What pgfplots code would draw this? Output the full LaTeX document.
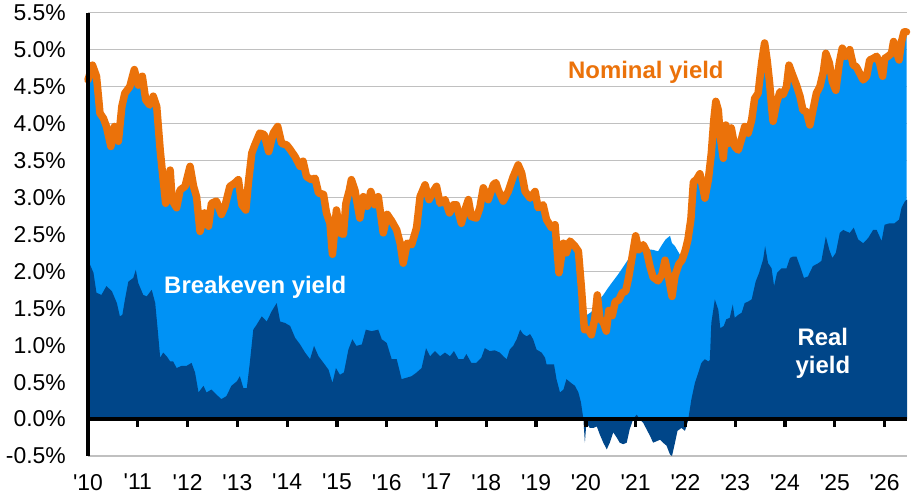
\documentclass[border=0pt]{standalone}
\usepackage{fontspec}
\setmainfont{Liberation Sans}
\usepackage{pgfplots}
\pgfplotsset{compat=1.18}
\usepackage{pgfplotstable}
\definecolor{lb}{RGB}{0,146,245}
\definecolor{navy}{RGB}{0,70,137}
\definecolor{orng}{RGB}{235,114,10}
\definecolor{gridgray}{RGB}{192,192,192}
\newcommand\q{\textquotesingle}

\pgfplotstableread{
t n
2010.00 4.59
2010.09 4.79
2010.17 4.64
2010.21 4.36
2010.24 4.14
2010.31 4.07
2010.37 3.96
2010.46 3.69
2010.53 3.96
2010.61 3.76
2010.68 4.23
2010.74 4.41
2010.84 4.50
2010.93 4.73
2011.01 4.52
2011.09 4.64
2011.16 4.32
2011.24 4.25
2011.31 4.37
2011.38 4.23
2011.45 3.64
2011.49 3.37
2011.56 2.92
2011.65 3.37
2011.69 2.96
2011.78 2.86
2011.85 3.10
2011.95 3.15
2012.05 3.42
2012.12 3.15
2012.18 3.01
2012.25 2.54
2012.34 2.79
2012.42 2.61
2012.48 2.92
2012.58 2.95
2012.68 2.77
2012.75 2.88
2012.85 3.15
2012.94 3.19
2013.02 3.24
2013.09 2.90
2013.17 2.83
2013.22 3.19
2013.29 3.60
2013.35 3.71
2013.45 3.87
2013.54 3.85
2013.63 3.62
2013.72 3.87
2013.81 3.96
2013.89 3.73
2013.99 3.71
2014.06 3.65
2014.16 3.55
2014.26 3.42
2014.32 3.49
2014.39 3.28
2014.49 3.24
2014.56 3.26
2014.63 3.06
2014.73 3.04
2014.79 2.79
2014.86 2.65
2014.91 2.23
2014.99 2.83
2015.06 2.52
2015.13 2.50
2015.18 2.92
2015.25 3.10
2015.29 3.24
2015.36 3.10
2015.46 2.72
2015.53 3.01
2015.61 2.88
2015.68 3.08
2015.76 2.90
2015.83 3.01
2015.93 2.52
2016.01 2.77
2016.10 2.68
2016.20 2.56
2016.27 2.38
2016.33 2.11
2016.41 2.38
2016.50 2.36
2016.60 2.59
2016.67 3.01
2016.77 3.17
2016.85 2.97
2016.93 3.08
2017.00 3.15
2017.07 2.92
2017.17 2.97
2017.26 2.79
2017.34 2.90
2017.40 2.90
2017.50 2.65
2017.57 2.83
2017.64 2.97
2017.70 2.74
2017.80 2.72
2017.87 2.86
2017.94 3.13
2018.04 2.97
2018.14 3.17
2018.19 3.20
2018.24 3.10
2018.34 2.95
2018.44 3.08
2018.54 3.28
2018.64 3.44
2018.71 3.33
2018.78 3.08
2018.88 2.99
2018.98 3.08
2019.04 2.86
2019.14 2.90
2019.21 2.70
2019.31 2.59
2019.38 2.63
2019.46 1.98
2019.55 2.38
2019.61 2.25
2019.68 2.41
2019.78 2.34
2019.85 2.27
2019.91 1.78
2019.97 1.21
2020.05 1.21
2020.11 1.14
2020.18 1.36
2020.23 1.68
2020.28 1.36
2020.35 1.31
2020.41 1.19
2020.46 1.47
2020.53 1.40
2020.59 1.59
2020.66 1.61
2020.73 1.71
2020.80 1.73
2020.86 1.92
2020.93 2.20
2021.00 2.48
2021.06 2.29
2021.15 2.36
2021.22 2.27
2021.29 2.06
2021.35 1.92
2021.45 1.87
2021.53 1.96
2021.59 2.15
2021.65 1.96
2021.73 1.66
2021.79 1.94
2021.87 2.10
2021.93 2.15
2022.00 2.29
2022.05 2.43
2022.11 2.71
2022.16 3.21
2022.22 3.24
2022.29 3.32
2022.36 3.10
2022.39 2.99
2022.46 3.24
2022.52 3.60
2022.57 4.05
2022.61 4.30
2022.66 4.18
2022.70 3.82
2022.76 3.53
2022.81 3.98
2022.86 3.73
2022.92 3.94
2022.99 3.69
2023.06 3.64
2023.13 3.80
2023.19 3.96
2023.26 3.87
2023.33 4.05
2023.39 4.34
2023.46 4.41
2023.53 4.82
2023.59 5.09
2023.64 4.86
2023.69 4.55
2023.73 4.23
2023.76 4.03
2023.83 4.28
2023.90 4.43
2023.96 4.39
2024.03 4.50
2024.08 4.79
2024.15 4.66
2024.23 4.52
2024.30 4.37
2024.36 4.18
2024.43 4.16
2024.50 3.98
2024.56 4.18
2024.63 4.41
2024.70 4.50
2024.77 4.70
2024.82 4.95
2024.89 4.82
2024.95 4.57
2025.02 4.45
2025.09 4.82
2025.15 5.02
2025.22 4.91
2025.30 5.00
2025.37 4.79
2025.43 4.77
2025.50 4.68
2025.57 4.59
2025.64 4.64
2025.70 4.86
2025.77 4.88
2025.84 4.91
2025.90 4.82
2025.96 4.64
2026.00 4.88
2026.07 4.91
2026.14 4.95
2026.18 5.11
2026.24 4.97
2026.29 4.86
2026.34 5.11
2026.39 5.24
2026.44 5.24
}\nom

\pgfplotstableread{
t l
2019.96 1.30
2020.00 1.40
2020.11 1.45
2020.25 1.60
2020.35 1.68
2020.45 1.78
2020.55 1.87
2020.65 1.96
2020.75 2.06
2020.85 2.16
2020.92 2.25
2020.98 2.40
2021.05 2.30
2021.20 2.30
2021.35 2.29
2021.45 2.27
2021.53 2.36
2021.60 2.43
2021.69 2.48
2021.73 2.38
2021.79 2.34
2021.85 2.27
2021.91 2.20
2021.96 2.18
2022.02 2.25
}\ltop

\pgfplotstableread{
t r
2010.00 2.05
2010.04 2.09
2010.11 1.98
2010.17 1.71
2010.27 1.68
2010.37 1.80
2010.48 1.73
2010.58 1.57
2010.64 1.39
2010.69 1.41
2010.74 1.61
2010.81 1.86
2010.91 1.91
2010.96 2.02
2011.01 1.84
2011.11 1.68
2011.18 1.66
2011.28 1.75
2011.35 1.57
2011.40 1.21
2011.45 0.83
2011.51 0.90
2011.58 0.85
2011.65 0.78
2011.71 0.78
2011.78 0.69
2011.88 0.72
2011.98 0.72
2012.08 0.76
2012.15 0.63
2012.22 0.36
2012.32 0.45
2012.38 0.36
2012.48 0.40
2012.58 0.33
2012.68 0.27
2012.78 0.31
2012.88 0.45
2012.99 0.51
2013.05 0.58
2013.12 0.42
2013.19 0.42
2013.25 0.76
2013.32 1.21
2013.39 1.28
2013.49 1.39
2013.59 1.32
2013.69 1.46
2013.79 1.57
2013.86 1.32
2013.96 1.30
2014.06 1.26
2014.16 1.10
2014.26 1.01
2014.36 0.90
2014.46 0.81
2014.54 0.99
2014.63 0.85
2014.73 0.76
2014.83 0.67
2014.91 0.49
2014.98 0.69
2015.06 0.60
2015.14 0.63
2015.23 0.94
2015.31 1.08
2015.39 0.99
2015.50 1.01
2015.58 1.21
2015.70 1.19
2015.83 1.21
2015.90 1.08
2016.00 1.03
2016.10 0.81
2016.20 0.81
2016.30 0.54
2016.40 0.56
2016.50 0.58
2016.60 0.63
2016.70 0.69
2016.79 0.96
2016.87 0.85
2016.97 0.92
2017.07 0.85
2017.17 0.90
2017.27 0.85
2017.35 0.92
2017.44 0.81
2017.54 0.81
2017.60 0.88
2017.70 0.76
2017.80 0.76
2017.90 0.83
2017.97 0.96
2018.07 0.92
2018.17 0.93
2018.27 0.90
2018.34 0.85
2018.41 0.81
2018.47 0.94
2018.54 0.99
2018.61 1.08
2018.68 1.21
2018.74 1.15
2018.81 1.12
2018.88 1.15
2018.94 1.08
2019.01 0.94
2019.11 0.90
2019.18 0.83
2019.21 0.74
2019.28 0.74
2019.36 0.74
2019.41 0.54
2019.48 0.36
2019.55 0.40
2019.61 0.54
2019.70 0.49
2019.78 0.45
2019.85 0.36
2019.90 0.23
2019.95 0.00
2019.98 -0.32
2020.01 -0.05
2020.08 -0.12
2020.15 -0.12
2020.22 -0.10
2020.28 -0.21
2020.35 -0.32
2020.42 -0.41
2020.48 -0.32
2020.55 -0.18
2020.62 -0.25
2020.68 -0.32
2020.75 -0.34
2020.82 -0.32
2020.88 -0.14
2020.95 0.00
2021.02 0.06
2021.08 0.00
2021.15 -0.05
2021.22 -0.14
2021.29 -0.23
2021.35 -0.32
2021.42 -0.30
2021.49 -0.28
2021.55 -0.32
2021.62 -0.36
2021.69 -0.48
2021.73 -0.50
2021.79 -0.32
2021.84 -0.16
2021.92 -0.12
2021.99 -0.16
2022.05 -0.03
2022.12 0.27
2022.19 0.49
2022.26 0.63
2022.32 0.76
2022.39 0.81
2022.46 0.78
2022.49 0.80
2022.52 1.30
2022.59 1.62
2022.66 1.48
2022.70 1.23
2022.77 1.26
2022.82 1.35
2022.89 1.37
2022.95 1.55
2022.99 1.37
2023.06 1.41
2023.13 1.44
2023.19 1.57
2023.26 1.59
2023.33 1.62
2023.41 1.86
2023.48 1.98
2023.56 2.16
2023.60 2.34
2023.66 2.11
2023.73 2.04
2023.78 1.80
2023.84 1.98
2023.93 2.04
2024.03 2.04
2024.10 2.18
2024.16 2.20
2024.23 2.20
2024.30 2.07
2024.38 1.91
2024.46 1.93
2024.56 2.07
2024.67 2.11
2024.73 2.14
2024.82 2.47
2024.89 2.29
2024.95 2.18
2025.02 2.25
2025.10 2.52
2025.17 2.56
2025.23 2.54
2025.30 2.52
2025.38 2.59
2025.47 2.43
2025.57 2.38
2025.67 2.45
2025.77 2.56
2025.84 2.56
2025.94 2.41
2026.00 2.63
2026.10 2.65
2026.20 2.65
2026.29 2.70
2026.34 2.86
2026.41 2.95
2026.45 2.97
}\real

\begin{document}
\begin{tikzpicture}
\begin{axis}[
  at={(88bp,46bp)}, anchor=south west,
  scale only axis, width=819bp, height=443.3bp,
  xmin=0, xmax=16.45, ymin=-0.5, ymax=5.5,
  axis line style={draw=none},
  major tick length=0pt,
  ymajorgrids, grid style={color=gridgray, line width=1.3bp},
  ytick={-0.5,0,0.5,1,1.5,2,2.5,3,3.5,4,4.5,5,5.5},
  yticklabels={-0.5\%,0.0\%,0.5\%,1.0\%,1.5\%,2.0\%,2.5\%,3.0\%,3.5\%,4.0\%,4.5\%,5.0\%,5.5\%},
  xtick={0,1,2,3,4,5,6,7,8,9,10,11,12,13,14,15,16},
  xticklabels={\q10,\q11,\q12,\q13,\q14,\q15,\q16,\q17,\q18,\q19,\q20,\q21,\q22,\q23,\q24,\q25,\q26},
  tick label style={font=\fontsize{23}{27}\selectfont, inner sep=0pt, text=black},
  yticklabel style={anchor=east, xshift=-22bp},
  xticklabel style={anchor=north, yshift=-18bp},
  clip=false,
]
\addplot[fill=lb, draw=none] table[x expr=\thisrow{t}-2010,y=n]{\nom} \closedcycle;
\addplot[fill=lb, draw=none] table[x expr=\thisrow{t}-2010,y=l]{\ltop} \closedcycle;
\addplot[fill=navy, draw=none] table[x expr=\thisrow{t}-2010,y=r]{\real} \closedcycle;
\addplot[color=orng, line width=7.5bp, line join=round, line cap=round] table[x expr=\thisrow{t}-2010,y=n]{\nom};
\draw[black, line width=4bp] (axis cs:0,0) -- (axis cs:16.45,0);
\pgfplotsinvokeforeach{1,2,3,4,5,6,7,8,9,10,11,12,13,14,15,16}{
  \draw[black, line width=3.3bp] (axis cs:#1,0) -- (axis cs:#1,-0.105);
}
\draw[black, line width=4bp] (axis cs:0,-0.5) -- (axis cs:0,5.5);
\node[font=\fontsize{24}{28.3}\selectfont\bfseries, text=orng] at (axis cs:11.205,4.694) {Nominal yield};
\node[font=\fontsize{24}{28.3}\selectfont\bfseries, text=white] at (axis cs:3.36,1.785) {Breakeven yield};
\node[font=\fontsize{24}{28.3}\selectfont\bfseries, text=white, align=center] at (axis cs:14.76,0.885) {Real\\yield};
\end{axis}
\pgfresetboundingbox
\useasboundingbox (0,0) rectangle (913bp,502bp);
\end{tikzpicture}
\end{document}
